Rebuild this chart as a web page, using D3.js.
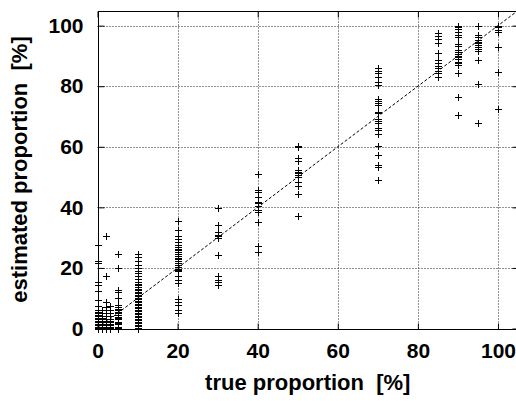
<!DOCTYPE html>
<html>
<head>
<meta charset="utf-8">
<script src="https://cdn.jsdelivr.net/npm/d3@7"></script>
<style>
  body { margin: 0; background: #fff; }
  svg { display: block; font-family: 'Liberation Sans', Arial, sans-serif; font-weight: bold; }
</style>
</head>
<body>
<svg width="516" height="401"></svg>
<script>
'use strict';
const svg = d3.select('svg');

// true proportion of each column of points [%]
const true_values = [0, 1, 2, 3, 5, 10, 20, 30, 40, 50, 70, 85, 90, 95, 100];

// estimated proportions read for each true value [%]
const est_0 = [0, 0.3, 0.6, 1, 1.3, 1.6, 2, 2.3, 2.6, 3, 3.5, 4, 4.5, 5, 5.5, 6, 7.3, 9.5, 12.3, 14.4, 15.5, 21.6, 22.4, 27.6];
const est_1 = [0, 0.3, 0.6, 1, 1.3, 1.6, 2, 2.5, 3, 3.5, 4, 5, 6];
const est_2 = [0, 0.3, 0.6, 1, 1.5, 2, 2.5, 3, 4, 5, 6, 7, 8.9, 17.2, 30.4];
const est_3 = [0, 0.3, 0.6, 1, 1.5, 2, 2.5, 3, 4, 5, 6, 7.5];
const est_5 = [24.6, 20.1, 12.8, 11.9, 10, 7.8, 7, 6.5, 6.2, 5.4, 5, 4.6, 3.8, 3.4, 3, 2.2, 1.8, 1.4, 0.6, 0.3, 0];
const est_10 = [24.7, 23.7, 22.2, 21.1, 20, 19.1, 18.3, 17.4, 16.3, 15.2, 14.7, 14.2, 13.7, 13.2, 12.7,
  12.2, 11.7, 11.2, 10.7, 10.2, 9.7, 9.2, 8.7, 8.2, 7.7, 7.2, 6.7, 6.2, 5.7, 5.2, 4.7, 4.2, 3.7,
  3.2, 2.7, 2.2, 1.7, 1.2, 0.7, 0.3, 0];
const est_20 = [35.5, 32.6, 30.4, 29.5, 28.5, 27.6, 27, 26.4, 25.8, 25.2, 24.6, 24, 23.4, 22.8, 22.2,
  21.6, 21, 20.4, 19.8, 19.2, 18.9, 17.5, 16.1, 15, 9.8, 8.9, 7.8, 6.2, 5.1];
const est_30 = [39.9, 34.2, 32, 30.9, 30.4, 29.8, 24.3, 17.2, 16.1, 15.2, 14.2];
const est_40 = [50.9, 45.8, 45, 43.4, 41.8, 41.4, 40.6, 39.2, 38.6, 35.3, 27.1, 25.4];
const est_50 = [60.3, 59.9, 56.2, 55.4, 52.4, 51.8, 51.3, 50.7, 49.9, 48.5, 46.9, 44.3, 37];
const est_70 = [85.9, 85.1, 84.3, 83, 81.5, 80.4, 75.7, 75.1, 74.6, 73.8, 71.6, 71, 69.2, 68.6, 68,
  66.1, 65.6, 64.3, 60.1, 57.3, 54, 53.3, 49.1];
const est_85 = [97.5, 96.7, 95.6, 94.2, 91.1, 88.5, 87.6, 86.7, 85.9, 85.1, 84.3, 83.2];
const est_90 = [100, 99.7, 98.9, 98, 96.9, 96.2, 94, 93.4, 92, 91.2, 90.7, 90, 89.6, 88.9, 88.1,
  87.6, 87, 84.5, 76.4, 70.5];
const est_95 = [100, 96.9, 96.2, 95.3, 94.7, 94.2, 93.6, 93.1, 92.2, 91.7, 88.7, 80.7, 67.8];
const est_100 = [100, 99.7, 99.4, 98.6, 98, 93.1, 84.6, 72.5];

const estimates = [est_0, est_1, est_2, est_3, est_5, est_10, est_20, est_30, est_40, est_50,
  est_70, est_85, est_90, est_95, est_100];

const tick_values = [0, 20, 40, 60, 80, 100];
const axis_max = 105;

const points = [];
for (const [i, tv] of true_values.entries()) {
  for (const ev of estimates[i]) points.push([tv, ev]);
}

const x_scale = d3.scaleLinear().domain([0, axis_max]).range([97.5, 518]);
const y_scale = d3.scaleLinear().domain([0, axis_max]).range([328.5, 10.5]);

const x0 = x_scale(0), x1 = x_scale(axis_max);
const y0 = y_scale(0), y1 = y_scale(axis_max);

//grid
const grid_g = svg.append('g')
  .attr('stroke', '#222')
  .attr('stroke-width', 1)
  .attr('stroke-dasharray', '1,2');
grid_g.selectAll('.gx').data(tick_values.slice(1)).enter()
  .append('line')
    .attr('x1', d => Math.round(x_scale(d)) + 0.5)
    .attr('x2', d => Math.round(x_scale(d)) + 0.5)
    .attr('y1', y0)
    .attr('y2', y1);
grid_g.selectAll('.gy').data(tick_values.slice(1)).enter()
  .append('line')
    .attr('x1', x0)
    .attr('x2', x1)
    .attr('y1', d => Math.round(y_scale(d)) + 0.5)
    .attr('y2', d => Math.round(y_scale(d)) + 0.5);

//diagonal y = x
svg.append('line')
  .attr('x1', x_scale(0))
  .attr('y1', y_scale(0))
  .attr('x2', x_scale(axis_max))
  .attr('y2', y_scale(axis_max))
  .attr('stroke', '#000')
  .attr('stroke-width', 1)
  .attr('stroke-dasharray', '3,2');

//points as + marks
const r = 3.5;
svg.append('path')
  .attr('fill', 'none')
  .attr('stroke', '#000')
  .attr('stroke-width', 1)
  .attr('d', points.map(p => {
    const cx = Math.round(x_scale(p[0])) + 0.5;
    const cy = Math.round(y_scale(p[1])) + 0.5;
    return `M${cx - r},${cy}H${cx + r}M${cx},${cy - r}V${cy + r}`;
  }).join(''));

//border
svg.append('rect')
  .attr('x', Math.round(x0) + 0.5)
  .attr('y', Math.round(y1) + 0.5)
  .attr('width', Math.round(x1) - Math.round(x0))
  .attr('height', Math.round(y0) - Math.round(y1))
  .attr('fill', 'none')
  .attr('stroke', '#000')
  .attr('stroke-width', 1);

//axes with inward ticks
svg.append('g')
  .attr('transform', `translate(0,${Math.round(y0) + 0.5})`)
  .call(d3.axisBottom(x_scale).tickValues(tick_values).tickSize(-6).tickPadding(14))
  .call(g => g.select('.domain').remove())
  .call(g => g.selectAll('text').attr('font-size', 21).attr('font-family', null).attr('dy', '0.71em'));

svg.append('g')
  .attr('transform', `translate(0,${Math.round(y1) + 0.5})`)
  .call(d3.axisTop(x_scale).tickValues(tick_values).tickSize(-6).tickFormat(''))
  .call(g => g.select('.domain').remove());

svg.append('g')
  .attr('transform', `translate(${Math.round(x0) + 0.5},0)`)
  .call(d3.axisLeft(y_scale).tickValues(tick_values).tickSize(-6).tickPadding(15))
  .call(g => g.select('.domain').remove())
  .call(g => g.selectAll('text').attr('font-size', 21).attr('font-family', null));

svg.append('g')
  .attr('transform', `translate(${Math.round(x1) + 0.5},0)`)
  .call(d3.axisRight(y_scale).tickValues(tick_values).tickSize(-6).tickFormat(''))
  .call(g => g.select('.domain').remove());

//axis titles
svg.append('text')
  .attr('x', (x0 + x1) / 2)
  .attr('y', 390)
  .attr('text-anchor', 'middle')
  .attr('font-size', 22)
  .style('white-space', 'pre')
  .text('true proportion  [%]');

svg.append('text')
  .attr('transform', `translate(27,${(y0 + y1) / 2}) rotate(-90)`)
  .attr('text-anchor', 'middle')
  .attr('font-size', 22)
  .style('white-space', 'pre')
  .text('estimated proportion  [%]');
</script>
</body>
</html>
